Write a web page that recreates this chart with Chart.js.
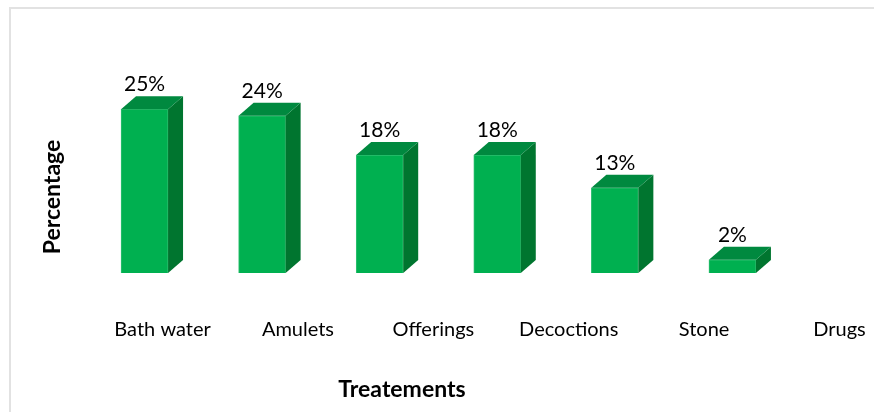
<!DOCTYPE html>
<html>
<head>
<meta charset="utf-8">
<script src="https://cdn.jsdelivr.net/npm/chart.js@4/dist/chart.umd.min.js"></script>
<style>
  html, body { margin: 0; padding: 0; background: #fff; }
  #wrap { position: relative; width: 874px; height: 412px; overflow: hidden; }
  #frame {
    position: absolute; left: 9px; top: 7px; right: -20px; bottom: -20px;
    border-top: 2px solid #e2e2e2; border-left: 2px solid #e2e2e2;
  }
  #chart { position: absolute; left: 0; top: 0; }
</style>
</head>
<body>
<div id="wrap">
  <div id="frame"></div>
  <canvas id="chart" width="874" height="412"></canvas>
</div>
<script>
// Treatments and their share (%)
const categories = ['Bath water', 'Amulets', 'Offerings', 'Decoctions', 'Stone', 'Drugs'];
const percentages = [25, 24, 18, 18, 13, 2];

const xTitle = 'Treatements';
const yTitle = 'Percentage';

const FONT = 'Lato, "Open Sans", sans-serif';
const FRONT = '#00B050';
const TOP = '#00893F';
const SIDE = '#00752F';
const DEPTH_X = 15;
const DEPTH_Y = 13;

// Draw the side and top faces of each column, then its value label
const columns3d = {
  id: 'columns3d',
  afterDatasetsDraw(chart) {
    const ctx = chart.ctx;
    const meta = chart.getDatasetMeta(0);
    ctx.save();
    meta.data.forEach((bar, i) => {
      const { x, y, base, width } = bar.getProps(['x', 'y', 'base', 'width'], true);
      const left = x - width / 2;
      const right = x + width / 2;

      // side face
      ctx.fillStyle = SIDE;
      ctx.beginPath();
      ctx.moveTo(right, y);
      ctx.lineTo(right + DEPTH_X, y - DEPTH_Y);
      ctx.lineTo(right + DEPTH_X, base - DEPTH_Y);
      ctx.lineTo(right, base);
      ctx.closePath();
      ctx.fill();

      // top face
      ctx.fillStyle = TOP;
      ctx.beginPath();
      ctx.moveTo(left, y);
      ctx.lineTo(left + DEPTH_X, y - DEPTH_Y);
      ctx.lineTo(right + DEPTH_X, y - DEPTH_Y);
      ctx.lineTo(right, y);
      ctx.closePath();
      ctx.fill();

      // value label
      ctx.fillStyle = '#000';
      ctx.font = '21px ' + FONT;
      ctx.textAlign = 'center';
      ctx.textBaseline = 'alphabetic';
      ctx.fillText(percentages[i] + '%', x, y - DEPTH_Y - 5);
    });

    // x axis title
    ctx.font = 'bold 23px ' + FONT;
    ctx.fillText(xTitle, 402, 397);
    ctx.restore();
  }
};

new Chart(document.getElementById('chart'), {
  type: 'bar',
  data: {
    datasets: [{
      data: percentages.map((v, i) => ({ x: i, y: v })),
      xAxisID: 'xb',
      yAxisID: 'y',
      backgroundColor: FRONT,
      borderColor: '#2EC070',
      borderWidth: 1,
      barThickness: 47,
      clip: false
    }]
  },
  options: {
    responsive: false,
    animation: false,
    layout: { padding: { left: 29, right: 4, top: 76.5, bottom: 54.5 } },
    plugins: {
      legend: { display: false },
      tooltip: { enabled: false }
    },
    scales: {
      // positions of the columns
      xb: {
        type: 'linear',
        position: 'bottom',
        display: false,
        offset: false,
        min: -0.6,
        max: 6.17
      },
      // category names along the floor
      x: {
        type: 'linear',
        position: 'bottom',
        offset: false,
        min: -0.654,
        max: 5.225,
        afterFit: (scale) => {
          scale.height = 40;
          scale.paddingLeft = 0;
          scale.paddingRight = 0;
        },
        grid: { display: false, drawTicks: false },
        border: { display: false },
        ticks: {
          stepSize: 1,
          includeBounds: false,
          autoSkip: false,
          maxRotation: 0,
          padding: 0,
          color: '#000',
          font: { family: FONT, size: 20 },
          callback: (v) => categories[v] ?? ''
        }
      },
      y: {
        type: 'linear',
        min: -6.8,
        max: 30,
        afterFit: (scale) => {
          scale.width = 45;
          scale.paddingTop = 0;
          scale.paddingBottom = 0;
        },
        grid: { display: false, drawTicks: false },
        border: { display: false },
        ticks: { display: false },
        title: {
          display: true,
          text: yTitle,
          color: '#000',
          padding: { top: 10, bottom: 0 },
          font: { family: FONT, size: 23, weight: 'bold' }
        }
      }
    }
  },
  plugins: [columns3d]
});
</script>
</body>
</html>
